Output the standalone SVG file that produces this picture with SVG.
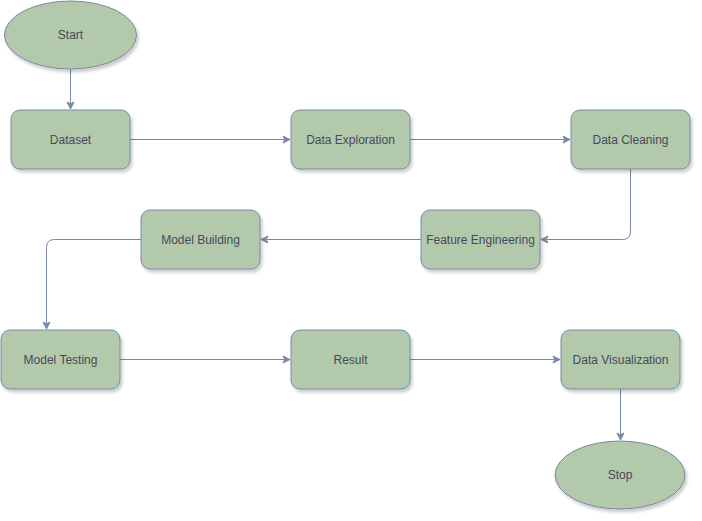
<svg xmlns="http://www.w3.org/2000/svg" width="702" height="521" viewBox="0 0 702 521">
<style>
.n{fill:#B2C9AB;stroke:#788AA3;stroke-width:1;filter:url(#sh)}
.t{font-family:"Liberation Sans",Arial,sans-serif;font-size:12px;fill:#46495D;text-anchor:middle;dominant-baseline:central}
.c{fill:none;stroke:#788AA3;stroke-width:1;marker-end:url(#ar)}
</style>
<defs>
<filter id="sh" x="-20%" y="-20%" width="140%" height="150%">
<feDropShadow dx="2" dy="3" stdDeviation="1.5" flood-color="#000" flood-opacity="0.2"/>
</filter>
<marker id="ar" markerWidth="10" markerHeight="10" refX="8" refY="5" orient="auto" markerUnits="userSpaceOnUse">
<path d="M1,1.5 L8,5 L1,8.5 L2.8,5 Z" fill="#788AA3" stroke="#788AA3" stroke-width="1"/>
</marker>
</defs>
<g id="connectors">
<path class="c" d="M70.5,69 V109"/>
<path class="c" d="M130,139.5 H290"/>
<path class="c" d="M410,139.5 H570"/>
<path class="c" d="M630.5,169 V231.5 Q630.5,239.5 622.5,239.5 H541"/>
<path class="c" d="M421,239.5 H261"/>
<path class="c" d="M141,239.5 H54.5 Q46.5,239.5 46.5,247.5 V329"/>
<path class="c" d="M120,359.5 H290"/>
<path class="c" d="M410,359.5 H560"/>
<path class="c" d="M620.5,389 V440"/>
</g>
<g id="start"><ellipse class="n" cx="70.5" cy="35" rx="66" ry="34"/><text class="t" x="70.5" y="35">Start</text></g>
<g id="dataset"><rect class="n" x="11" y="110" width="119" height="59" rx="9"/><text class="t" x="70.5" y="139.5">Dataset</text></g>
<g id="data-exploration"><rect class="n" x="291" y="110" width="119" height="59" rx="9"/><text class="t" x="350.5" y="139.5">Data Exploration</text></g>
<g id="data-cleaning"><rect class="n" x="571" y="110" width="119" height="59" rx="9"/><text class="t" x="630.5" y="139.5">Data Cleaning</text></g>
<g id="feature-engineering"><rect class="n" x="421" y="210" width="119" height="59" rx="9"/><text class="t" x="480.5" y="239.5">Feature Engineering</text></g>
<g id="model-building"><rect class="n" x="141" y="210" width="119" height="59" rx="9"/><text class="t" x="200.5" y="239.5">Model Building</text></g>
<g id="model-testing"><rect class="n" x="1" y="330" width="119" height="59" rx="9"/><text class="t" x="60.5" y="359.5">Model Testing</text></g>
<g id="result"><rect class="n" x="291" y="330" width="119" height="59" rx="9"/><text class="t" x="350.5" y="359.5">Result</text></g>
<g id="data-visualization"><rect class="n" x="561" y="330" width="119" height="59" rx="9"/><text class="t" x="620.5" y="359.5">Data Visualization</text></g>
<g id="stop"><ellipse class="n" cx="620" cy="475" rx="65" ry="34"/><text class="t" x="620" y="475">Stop</text></g>
</svg>
